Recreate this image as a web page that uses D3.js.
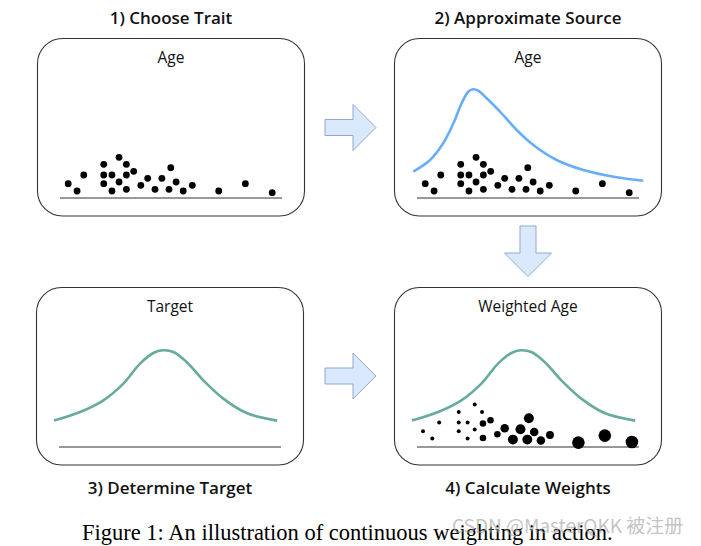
<!DOCTYPE html>
<html>
<head>
<meta charset="utf-8">
<script src="https://cdn.jsdelivr.net/npm/d3@7"></script>
<style>
  html, body { margin: 0; padding: 0; background: #fff; }
  svg { display: block; }
</style>
</head>
<body>
<svg id="chart" width="701" height="546"></svg>
<script>
// ---------- DATA ----------
const panelHeadings = ["1) Choose Trait", "2) Approximate Source", "3) Determine Target", "4) Calculate Weights"];
const panelTitles = ["Age", "Age", "Target", "Weighted Age"];
const caption = "Figure 1: An illustration of continuous weighting in action.";
const watermark = "CSDN @MasterQKK 被注册";

// sample ages (x, 0-100) and stacking height of each dot above the axis
const ages    = [3.7, 7.7, 10.7, 19.7, 19.7, 19.7, 23.4, 23.4, 26.6, 29.9, 29.9, 26.6, 29.9, 33.2, 36.4, 39.5, 42.8, 45.9, 49.9, 49.1, 52.3, 55.5, 59.6, 71.5, 83.5, 95.6];
const heights = [14.3, 7, 23, 33.7, 23, 14.3, 23, 7, 40.7, 33.7, 23, 16, 8.7, 26.7, 12.7, 19.7, 8.7, 19.7, 30.3, 8.7, 16, 7, 12.7, 7, 14.3, 5.3];

// weighted sample (panel 4)
const weightedAges    = [2.7, 6.9, 10, 18.8, 18.8, 18.8, 22.8, 22.8, 26, 29.3, 29.7, 26, 29.7, 33.1, 36.2, 39.5, 43.2, 46.6, 50.4, 49.7, 52.8, 55.8, 59.9, 72.7, 84.6, 96.8];
const weightedHeights = [15.7, 8.4, 24.4, 35, 24.4, 15.7, 24.4, 8.4, 42.4, 35, 23.4, 17.4, 9, 26.7, 12.7, 18.7, 7.4, 17.7, 28.7, 7.4, 15, 6.4, 12, 4.4, 11.4, 5];
const weights         = [0.1, 0.1, 0.1, 0.1, 0.1, 0.1, 0.1, 0.1, 0.1, 0.1, 0.27, 0.1, 0.27, 0.27, 0.27, 0.46, 0.62, 0.62, 0.62, 0.62, 0.46, 0.46, 0.4, 1, 1, 1];

// approximated source density (blue)
const sourceX = [-1.7, 5.9, 11.8, 16.4, 20.1, 23.1, 25.4, 27.6, 31.4, 37.4, 44.9, 52.4, 62.9, 74.9, 90, 101.9];
const sourceY = [26.3, 38, 54.7, 74.7, 94.7, 106.3, 108.7, 107.3, 99.7, 86.3, 68, 53, 38, 28, 20.7, 17.3];

// target density (green)
const targetX = [-2.3, 9.5, 20, 29, 36.5, 42.5, 46.7, 51.5, 57.5, 65, 74, 84.5, 98.3];
const targetY = [26.4, 35, 46.7, 63.4, 83.4, 94, 96.7, 95, 85, 66.7, 48.4, 34, 26.4];

// ---------- LAYOUT ----------
const svg = d3.select("#chart");
svg.append("rect").attr("width", 701).attr("height", 546).attr("fill", "#fff");

const boxW = 267, boxH = 177.5;
const panels = [
  {x: 37.5, y: 38.5, headY: 23.5},
  {x: 394.5, y: 38.5, headY: 23.5},
  {x: 36.5, y: 287.5, headY: 494},
  {x: 394.5, y: 287.5, headY: 494}
];

const x = d3.scaleLinear().domain([0, 100]).range([22.5, 244.5]);
const y = d3.scaleLinear().domain([0, 150]).range([159.5, 9.5]);
const r = d3.scaleSqrt().domain([0, 1]).range([0, 6.3]);

const line = d3.line().x((d) => x(d[0])).y((d) => y(d[1])).curve(d3.curveCatmullRom.alpha(0.5));

const blue = "#66aff8";
const green = "#67ab9f";

panels.forEach((p, i) => {
  const g = svg.append("g").attr("transform", `translate(${p.x},${p.y})`);
  g.append("rect").attr("x", 0).attr("y", 0).attr("width", boxW).attr("height", boxH)
    .attr("rx", 25).attr("ry", 25).attr("fill", "#fff").attr("stroke", "#333").attr("stroke-width", 1.1);
  g.append("text").attr("x", boxW / 2).attr("y", 24).attr("text-anchor", "middle")
    .attr("font-family", "Open Sans").attr("font-size", 15.5).attr("fill", "#111").text(panelTitles[i]);
  // axis baseline
  g.append("line").attr("x1", x(0)).attr("x2", x(100)).attr("y1", y(0)).attr("y2", y(0))
    .attr("stroke", "#333").attr("stroke-width", 1.1);

  if (i === 1) {
    g.append("path").datum(d3.zip(sourceX, sourceY)).attr("d", line)
      .attr("fill", "none").attr("stroke", blue).attr("stroke-width", 2.6);
  }
  if (i === 2 || i === 3) {
    g.append("path").datum(d3.zip(targetX, targetY)).attr("d", line)
      .attr("fill", "none").attr("stroke", green).attr("stroke-width", 2.6);
  }
  if (i === 0 || i === 1) {
    g.selectAll("circle.dot").data(d3.zip(ages, heights)).join("circle")
      .attr("class", "dot").attr("cx", (d) => x(d[0])).attr("cy", (d) => y(d[1]))
      .attr("r", 3.4).attr("fill", "#000");
  }
  if (i === 3) {
    g.selectAll("circle.dot").data(d3.zip(weightedAges, weightedHeights, weights)).join("circle")
      .attr("class", "dot").attr("cx", (d) => x(d[0])).attr("cy", (d) => y(d[1]))
      .attr("r", (d) => r(d[2])).attr("fill", "#000");
  }

  svg.append("text").attr("x", p.x + boxW / 2).attr("y", p.headY).attr("text-anchor", "middle")
    .attr("font-family", "Open Sans").attr("font-weight", 600).attr("font-size", 17)
    .attr("fill", "#111").text(panelHeadings[i]);
});

// ---------- ARROWS ----------
const arrowFill = "#dae8fc", arrowStroke = "#8fa9cf";
function rightArrow(cx, cy) {
  const pts = [[-25.5, -8], [2.5, -8], [2.5, -23], [25.5, 0], [2.5, 23], [2.5, 8], [-25.5, 8]];
  svg.append("path").attr("d", d3.line()(pts.map((q) => [cx + q[0], cy + q[1]])) + "Z")
    .attr("fill", arrowFill).attr("stroke", arrowStroke).attr("stroke-width", 1);
}
function downArrow(cx, cy) {
  const pts = [[-8, -25.5], [8, -25.5], [8, 1.5], [23.5, 1.5], [0, 25], [-23.5, 1.5], [-8, 1.5]];
  svg.append("path").attr("d", d3.line()(pts.map((q) => [cx + q[0], cy + q[1]])) + "Z")
    .attr("fill", arrowFill).attr("stroke", arrowStroke).attr("stroke-width", 1);
}
rightArrow(350.5, 127.5);
rightArrow(350.5, 376);
downArrow(528, 251.5);

// ---------- CAPTION ----------
svg.append("text").attr("x", 82).attr("y", 540).attr("font-family", "Liberation Serif, Times New Roman, serif")
  .attr("font-size", 22.5).attr("fill", "#000").text(caption);
svg.append("text").attr("x", 452).attr("y", 533).attr("font-family", "Noto Sans CJK SC, Noto Sans, sans-serif")
  .attr("font-size", 19).attr("fill", "#9a9a9a").attr("fill-opacity", 0.6).text(watermark);
</script>
</body>
</html>
